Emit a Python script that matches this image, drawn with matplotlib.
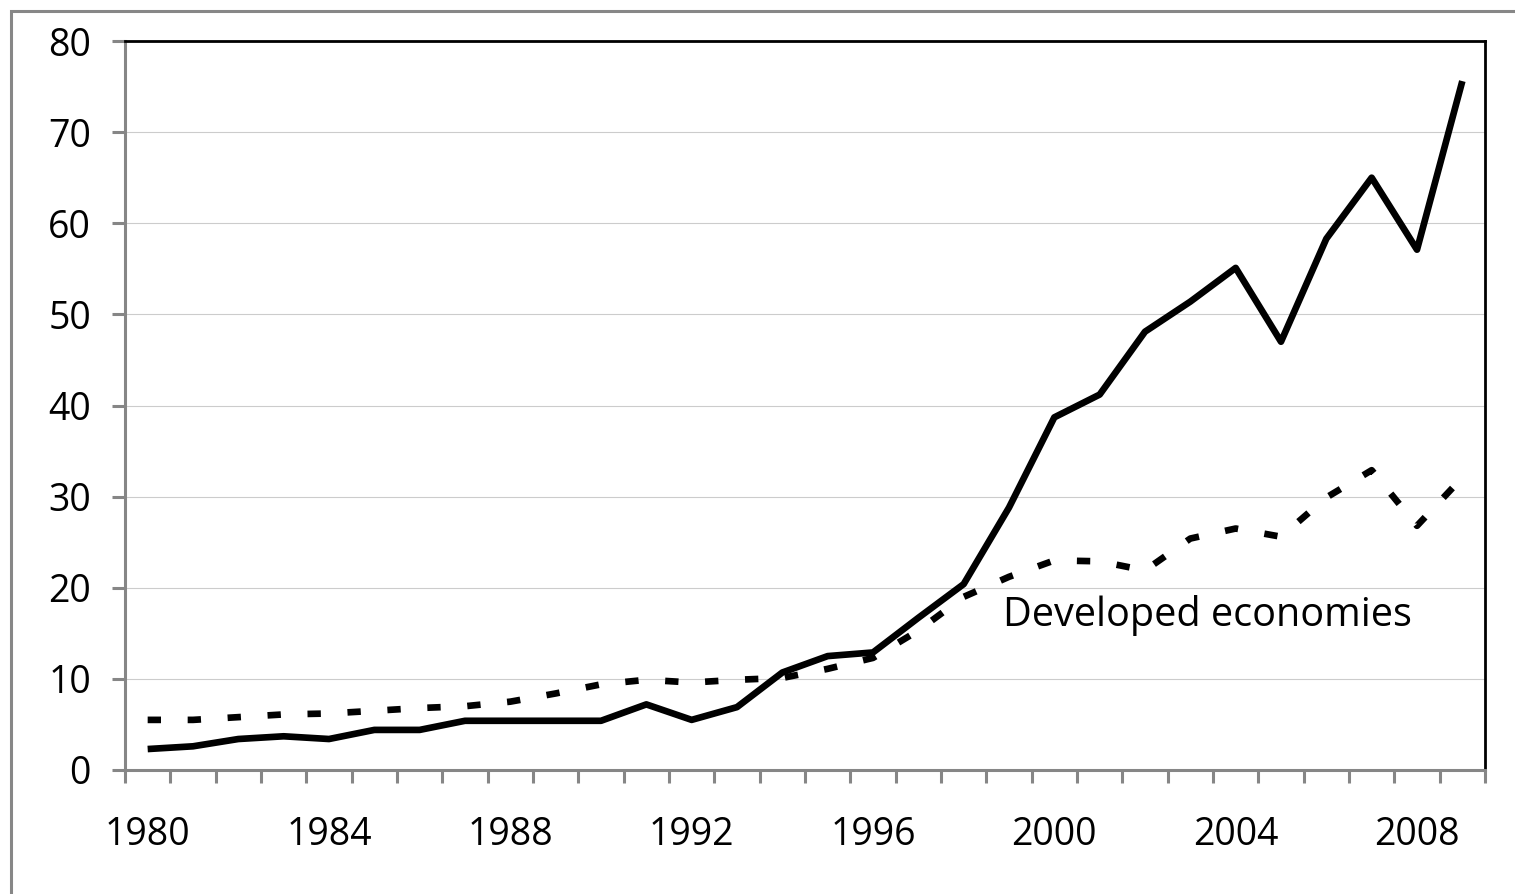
import matplotlib
matplotlib.use('Agg')
import matplotlib.pyplot as plt
import matplotlib.patches as patches
import numpy as np

plt.rcParams['font.family'] = ['Open Sans', 'DejaVu Sans']

years = np.arange(1980, 2010)
developing = [2.3, 2.6, 3.4, 3.7, 3.4, 4.4, 4.4, 5.4, 5.4, 5.4,
              5.4, 7.2, 5.5, 6.9, 10.7, 12.5, 12.9, 16.7, 20.4, 28.8,
              38.7, 41.2, 48.1, 51.4, 55.1, 47.0, 58.3, 65.0, 57.1, 75.6]
developed = [5.5, 5.5, 5.8, 6.1, 6.2, 6.5, 6.8, 7.0, 7.5, 8.4,
             9.4, 9.9, 9.6, 9.9, 10.1, 11.1, 12.3, 15.3, 19.0, 21.2,
             23.0, 22.9, 21.9, 25.4, 26.5, 25.6, 29.9, 32.9, 26.8, 32.1]
xtick_years = years[::4]
yticks = np.arange(0, 81, 10)
label_text = "Developed economies"

fig = plt.figure(figsize=(15.15, 8.94), dpi=100)
ax = fig.add_axes([125 / 1515, 1 - 770 / 894, 1360 / 1515, 729 / 894])

# outer chart border (cut off at right/bottom like the source)
fig.patches.append(patches.Rectangle((11 / 1515, -0.1), 1.2, 1.1 - 11 / 894,
                                     transform=fig.transFigure, fill=False,
                                     edgecolor='#878787', linewidth=2.2, zorder=0))

ax.plot(years, developing, color='black', lw=4.8, solid_capstyle='butt', zorder=3)
ax.plot(years, developed, color='black', lw=4.8, dashes=(2, 4),
        dash_capstyle='butt', zorder=3)

ax.text(1998.87, 15.8, label_text, fontsize=28.5, ha='left', va='baseline')

# limits / grid
ax.set_xlim(1979.5, 2009.5)
ax.set_ylim(0, 80)
ax.set_yticks(yticks)
ax.yaxis.grid(True, color='#cccccc', lw=0.8)
ax.set_axisbelow(True)

# ticks: labels on every 4th year, marks between categories
ax.set_xticks(xtick_years)
ax.set_xticklabels([str(y) for y in xtick_years])
ax.set_xticks(np.arange(1979.5, 2010, 1), minor=True)
ax.tick_params(axis='x', which='major', length=0, pad=33, labelsize=27)
ax.tick_params(axis='x', which='minor', length=9.5, width=2.2, color='#868686')
ax.tick_params(axis='y', length=9.5, width=2.2, color='#868686', pad=15, labelsize=27)

# spines
for s in ['left', 'bottom']:
    ax.spines[s].set_color('#868686')
    ax.spines[s].set_linewidth(2.2)
for s in ['top', 'right']:
    ax.spines[s].set_color('black')
    ax.spines[s].set_linewidth(2.0)

fig.savefig('out.png', dpi=100)
